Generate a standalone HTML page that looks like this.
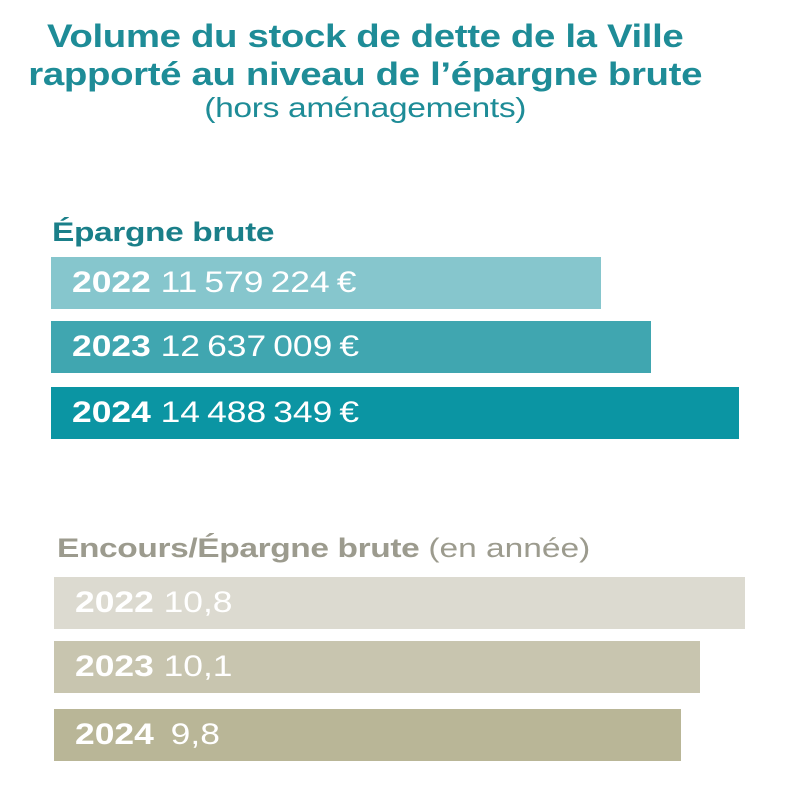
<!DOCTYPE html>
<html><head><meta charset="utf-8"><style>
body{margin:0;width:797px;height:800px;background:#fff;position:relative;overflow:hidden;font-family:"Liberation Sans",sans-serif}
.t{position:absolute;left:0;width:730px;text-align:center;color:#1e8c97;font-weight:bold;font-size:32px;letter-spacing:-0.3px;transform:scaleX(1.2);transform-origin:364px 0}
.bar{position:absolute;height:52px;color:#fff;font-size:30px;line-height:52px;box-sizing:border-box;padding-left:21px;white-space:nowrap}
.bar span{display:inline-block;transform:scaleX(1.18);transform-origin:0 0}
.h{position:absolute;font-size:27px;font-weight:bold;letter-spacing:-0.3px;transform:scaleX(1.24);transform-origin:0 0;white-space:nowrap}
</style></head><body>
<div class="t" style="top:18px">Volume du stock de dette de la Ville</div>
<div class="t" style="top:56px">rapporté au niveau de l’épargne brute</div>
<div class="t" style="top:92px;font-weight:normal;font-size:28px">(hors aménagements)</div>
<div class="h" style="left:52px;top:217px;color:#1a7f89">Épargne brute</div>
<div class="h" style="left:57px;top:533px;color:#9c9b8e">Encours/Épargne brute <span style="font-weight:normal;letter-spacing:0">(en année)</span></div>
<div id="c"></div>
<script>
const years=["2022","2023","2024"];
const epargne=[11579224,12637009,14488349];
const ratio=[10.8,10.1,9.8];
const epLabels=["11 579 224 €","12 637 009 €","14 488 349 €"];
const ratioLabels=["10,8","10,1"," 9,8"];
const epColors=["#86c6cd","#40a6b0","#0b95a3"];
const rColors=["#dcdad0","#c8c5af","#b9b697"];
const c=document.getElementById('c');
const xE=v=>v*47.5e-6, xR=v=>v*64;
const epTops=[257,321,387], rTops=[577,641,709];
function mk(left,top,w,col,year,lab,name){
 const d=document.createElement('div');
 d.className='bar';
 d.style.left=left+'px';d.style.top=top+'px';d.style.width=w+'px';d.style.background=col;
 d.innerHTML='<span><b>'+year+'</b> '+lab.replace(/ /g,'\u2009')+'</span>';
 
 
 c.appendChild(d);
}
years.forEach((y,i)=>mk(51,epTops[i],xE(epargne[i]),epColors[i],y,epLabels[i],'epargne-bar-'+y));
years.forEach((y,i)=>mk(54,rTops[i],xR(ratio[i]),rColors[i],y,ratioLabels[i],'ratio-bar-'+y));
</script>
</body></html>
